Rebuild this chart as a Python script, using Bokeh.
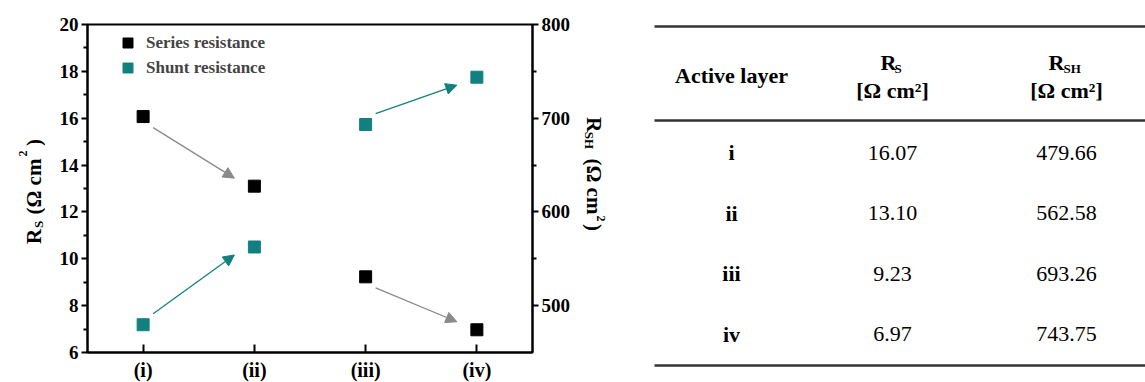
import math
from bokeh.plotting import figure
from bokeh.models import (Range1d, LinearAxis, FixedTicker, Arrow, NormalHead,
                          ColumnDataSource)
from bokeh.layouts import row, column
from bokeh.core.properties import value
from bokeh.embed import file_html
from bokeh.resources import INLINE

# ---------------- data ----------------
layers = ["i", "ii", "iii", "iv"]
x_tick_labels = ["(i)", "(ii)", "(iii)", "(iv)"]
x_pos = [1, 2, 3, 4]
rs_values = [16.07, 13.10, 9.23, 6.97]
rsh_values = [479.66, 562.58, 693.26, 743.75]
rs_ticks = [6, 8, 10, 12, 14, 16, 18, 20]
rs_minor = [7, 9, 11, 13, 15, 17, 19]
rsh_ticks = [500, 600, 700, 800]
rsh_minor = [550, 650, 750]
arrow_pairs = [(0, 1), (2, 3)]

SERIF = "Liberation Serif"
BLACK = "#000000"
TEAL = "#138080"
GRAY = "#8a8a8a"

# ---------------- geometry ----------------
H = 382
FW, FH = 445, 328
MT, MB = 24, 30
LW = 45            # left title strip
ML = 87 - LW       # chart left border
MR = 50            # chart right border
RW = 640 - (LW + ML + FW + MR)   # right title strip
XR = (0.5, 4.5)
YR = (6, 20)
YR2 = (450, 800)


def strip(width):
    f = figure(width=width, height=H, frame_height=FH, x_range=Range1d(0, width),
               y_range=Range1d(MT + FH, MT), x_axis_type=None, y_axis_type=None,
               min_border_left=0, min_border_right=0, min_border_top=MT, min_border_bottom=MB,
               output_backend="svg", toolbar_location=None)
    f.xgrid.visible = False
    f.ygrid.visible = False
    f.outline_line_color = None
    return f


# ---------------- chart ----------------
p = figure(frame_width=FW, frame_height=FH, x_range=Range1d(*XR), y_range=Range1d(*YR),
           min_border_left=ML, min_border_right=MR, min_border_top=MT, min_border_bottom=MB,
           output_backend="svg", toolbar_location=None)
p.extra_y_ranges = {"rsh": Range1d(*YR2)}
p.xgrid.visible = False
p.ygrid.visible = False
p.outline_line_color = "black"
p.outline_line_width = 2

ya = p.yaxis[0]
ya.ticker = FixedTicker(ticks=rs_ticks, minor_ticks=rs_minor)
xa = p.xaxis[0]
xa.ticker = FixedTicker(ticks=x_pos)
xa.major_label_overrides = {x: t for x, t in zip(x_pos, x_tick_labels)}
ra = LinearAxis(y_range_name="rsh", ticker=FixedTicker(ticks=rsh_ticks, minor_ticks=rsh_minor))
p.add_layout(ra, "right")

for ax in (xa, ya, ra):
    ax.axis_line_width = 2
    ax.axis_line_color = "black"
    ax.major_tick_line_width = 2
    ax.minor_tick_line_width = 2
    ax.major_tick_line_color = "black"
    ax.minor_tick_line_color = "black"
    ax.major_label_text_font = SERIF
    ax.major_label_text_font_style = "bold"
    ax.major_label_text_color = "black"
    ax.major_label_text_font_size = "19px"

for ax in (ya, ra):
    ax.major_tick_out = 6
    ax.major_tick_in = 0
    ax.minor_tick_out = 4
    ax.minor_tick_in = 0
    ax.major_label_standoff = 3

xa.major_tick_in = 8
xa.major_tick_out = 0
xa.minor_tick_line_color = None
xa.major_label_text_font_size = "20px"
xa.major_label_standoff = 6

p.scatter(x_pos, rs_values, marker="square", size=12, color=BLACK,
          legend_label="Series resistance")
p.scatter(x_pos, rsh_values, marker="square", size=12, color=TEAL,
          y_range_name="rsh", legend_label="Shunt resistance")

kx = FW / (XR[1] - XR[0])
ky1 = FH / (YR[1] - YR[0])
ky2 = FH / (YR2[1] - YR2[0])
for vals, ky, col, rng in ((rs_values, ky1, GRAY, "default"), (rsh_values, ky2, TEAL, "rsh")):
    for a, b in arrow_pairs:
        s = 1 if vals[b] > vals[a] else -1
        p.add_layout(Arrow(x_start=x_pos[a] + 10 / kx, y_start=vals[a] + s * 11 / ky,
                           x_end=x_pos[b] - 20 / kx, y_end=vals[b] - s * 8 / ky,
                           line_color=col, line_width=1.3,
                           end=NormalHead(size=11, fill_color=col, line_color=col),
                           y_range_name=rng))

lg = p.legend[0]
lg.location = (28, FH - 8 - 48)
lg.padding = 0
lg.margin = 0
lg.spacing = -2
lg.glyph_width = 25
lg.glyph_height = 25
lg.label_height = 25
lg.label_standoff = 6
lg.border_line_color = None
lg.background_fill_alpha = 0
lg.label_text_font = SERIF
lg.label_text_font_style = "bold"
lg.label_text_font_size = "17px"


# ---------------- axis titles (pieces for sub/superscripts) ----------------
def title_piece(fig, text, x, y, size, angle):
    fig.text(x=[x], y=[y], text=[text], angle=angle, text_font=value(SERIF),
             text_font_style="bold", text_font_size=size, text_align="center",
             text_baseline="alphabetic", text_color="black")


lt = strip(LW)
up = math.pi / 2
title_piece(lt, "R", 33, 236, "21px", up)
title_piece(lt, "S", 38, 224, "13px", up)
title_piece(lt, "(Ω cm", 33, 186, "21px", up)
title_piece(lt, "2", 22, 153, "12px", up)
title_piece(lt, ")", 33, 142, "21px", up)

rt = strip(RW)
r0 = LW + ML + FW + MR
dn = -math.pi / 2
title_piece(rt, "R", 593 - r0, 124, "21px", dn)
title_piece(rt, "SH", 589 - r0, 140, "13px", dn)
title_piece(rt, "(Ω cm", 593 - r0, 186, "21px", dn)
title_piece(rt, "2", 600 - r0, 218, "12px", dn)
title_piece(rt, ")", 593 - r0, 227, "21px", dn)

# ---------------- table ----------------
W2 = 1145 - 640
t = figure(width=W2, height=H, x_range=Range1d(0, W2), y_range=Range1d(H, 0),
           x_axis_type=None, y_axis_type=None, min_border=0,
           output_backend="svg", toolbar_location=None)
t.xgrid.visible = False
t.ygrid.visible = False
t.outline_line_color = None

rule_y = [26, 120, 365]
t.segment(x0=[14] * 3, x1=[W2] * 3, y0=rule_y, y1=rule_y, line_color="#333333", line_width=2.5)

col_x = [91, 252, 426]
row_y0, row_dy = 152, 60.5
rows_y = [row_y0 + i * row_dy for i in range(len(layers))]

src = ColumnDataSource(dict(
    y=rows_y, layer=layers,
    rs=["%.2f" % v for v in rs_values],
    rsh=["%.2f" % v for v in rsh_values],
))
common = dict(text_font=value(SERIF), text_font_size="22px", text_align="center",
              text_baseline="middle", text_color="black")
t.text(x=col_x[0], y="y", text="layer", source=src, text_font_style="bold", **common)
t.text(x=col_x[1], y="y", text="rs", source=src, **common)
t.text(x=col_x[2], y="y", text="rsh", source=src, **common)

t.text(x=[col_x[0]], y=[75], text=["Active layer"], text_font_style="bold", **common)
t.text(x=[col_x[1] - 4, col_x[2] - 10], y=[62, 62], text=["R", "R"], text_font_style="bold", **common)
t.text(x=[col_x[1] + 2, col_x[2] - 3], y=[68, 68], text=["S", "SH"], text_font_style="bold",
       text_font=value(SERIF), text_font_size="13px", text_align="left",
       text_baseline="middle", text_color="black")
t.text(x=[col_x[1], col_x[2]], y=[90, 90], text=["[Ω cm²]", "[Ω cm²]"], text_font_style="bold", **common)

layout = row(lt, p, rt, column(t))
open("out.html", "w").write(file_html(layout, INLINE))
